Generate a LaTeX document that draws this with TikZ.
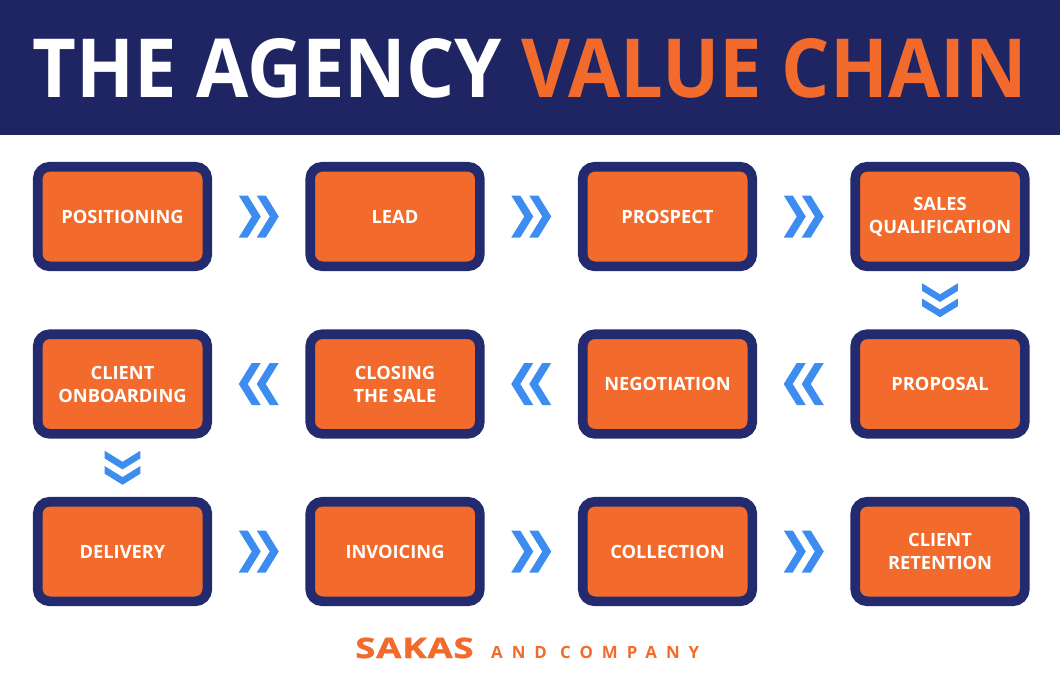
\documentclass[tikz,border=0pt]{standalone}
\usepackage{fontspec}
\setmainfont{Open Sans}
\usetikzlibrary{positioning}
\definecolor{navy}{HTML}{1F2563}
\definecolor{boxnavy}{HTML}{232A6E}
\definecolor{flame}{HTML}{F26B2C}
\definecolor{arrowblue}{HTML}{3D8DF0}
\tikzset{
node distance=4.1875cm and 6.8125cm, % centre to centre, rows and columns
on grid, % measure node distance between centres
stage/.style={draw=boxnavy, line width=0.24cm, fill=flame, rounded corners=0.3cm,
  minimum width=4.24cm, minimum height=2.49cm, align=center, text=white,
  font=\fontsize{13}{16.4}\selectfont\bfseries}, % every step of the chain
flow/.style={sloped, allow upside down}, % turns the chevrons along the connector
chevrons/.pic={
  \fill[arrowblue] (-0.5,0.525) -- (-0.275,0.525) -- (0.05,0) -- (-0.275,-0.525) -- (-0.5,-0.525) -- (-0.175,0) -- cycle;
  \fill[arrowblue] (-0.05,0.525) -- (0.175,0.525) -- (0.5,0) -- (0.175,-0.525) -- (-0.05,-0.525) -- (0.275,0) -- cycle;
}, % the double chevron between two steps
}

\begin{document}
\begin{tikzpicture}
    \useasboundingbox (0,0) rectangle (26.5,-16.875);
    \fill[navy] (0,0) rectangle (26.5,-3.375);
    \node[anchor=base, font=\fontsize{58}{60}\selectfont\bfseries\addfontfeature{FakeStretch=0.93}] (title) at (13.25,-2.425)
      {\textcolor{white}{THE AGENCY} \textcolor{flame}{VALUE CHAIN}};

    \node[stage] (positioning) at (3.0625,-5.4125) {POSITIONING};
    \node[stage, right=of positioning] (lead) {LEAD};
    \node[stage, right=of lead] (prospect) {PROSPECT};
    \node[stage, right=of prospect] (qualification) {SALES\\QUALIFICATION};
    \node[stage, below=of qualification] (proposal) {PROPOSAL};
    \node[stage, left=of proposal] (negotiation) {NEGOTIATION};
    \node[stage, left=of negotiation] (closing) {CLOSING\\THE SALE};
    \node[stage, left=of closing] (onboarding) {CLIENT\\ONBOARDING};
    \node[stage, below=of onboarding] (delivery) {DELIVERY};
    \node[stage, right=of delivery] (invoicing) {INVOICING};
    \node[stage, right=of invoicing] (collection) {COLLECTION};
    \node[stage, right=of collection] (retention) {CLIENT\\RETENTION};

    \path (positioning) -- pic[flow]{chevrons} (lead)
    (lead) -- pic[flow]{chevrons} (prospect)
    (prospect) -- pic[flow]{chevrons} (qualification)
    (qualification) -- pic[flow, scale=0.85]{chevrons} (proposal)
    (proposal) -- pic[flow]{chevrons} (negotiation)
    (negotiation) -- pic[flow]{chevrons} (closing)
    (closing) -- pic[flow]{chevrons} (onboarding)
    (onboarding) -- pic[flow, scale=0.85]{chevrons} (delivery)
    (delivery) -- pic[flow]{chevrons} (invoicing)
    (invoicing) -- pic[flow]{chevrons} (collection)
    (collection) -- pic[flow]{chevrons} (retention);

    \node[anchor=base west, inner sep=0pt, text=flame,
      font=\fontsize{20}{22}\selectfont\bfseries\addfontfeature{FakeStretch=1.3, FakeBold=1.5, LetterSpace=3}] (sakas) at (8.875,-16.45) {SAKAS};
    \node[right=0.425cm of sakas.base east, anchor=base west, inner sep=0pt, text=flame,
      font=\fontsize{12}{14}\selectfont\bfseries\addfontfeature{LetterSpace=53}] (company) {AND COMPANY};
  \end{tikzpicture}
\end{document}
